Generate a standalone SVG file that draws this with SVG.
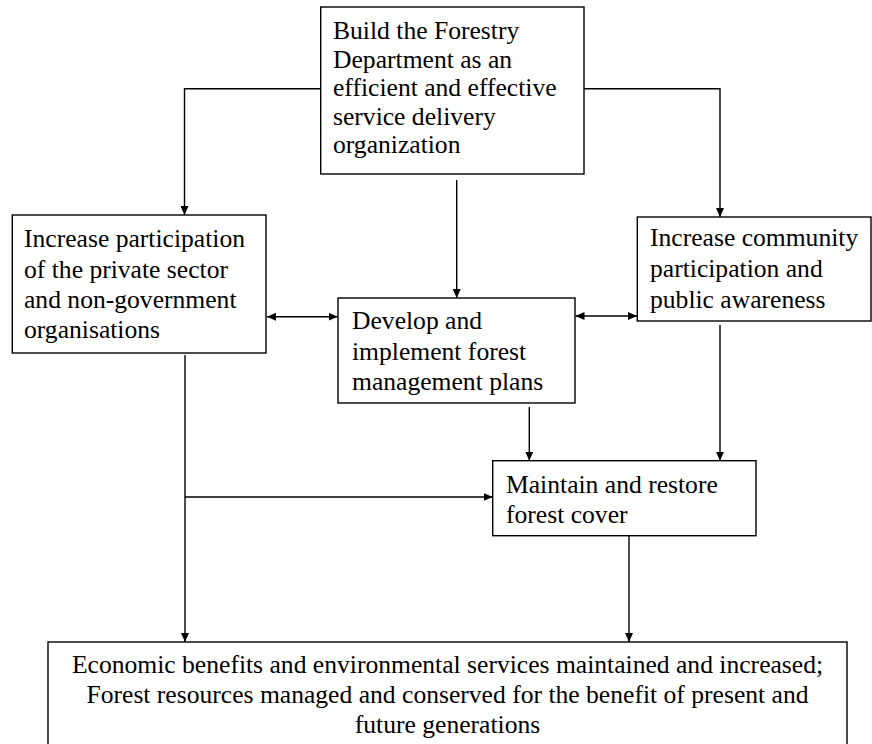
<svg xmlns="http://www.w3.org/2000/svg" width="872" height="744" viewBox="0 0 872 744">
<style>
.box{fill:#fff;stroke:#000;stroke-width:1.4}
.t{font-size:25.6px;fill:#000}
.c{text-anchor:middle}
.ln{fill:none;stroke:#000;stroke-width:1.4}
.a{marker-end:url(#ah)}
.d{marker-start:url(#ah);marker-end:url(#ah)}
</style>
<defs>
<marker id="ah" markerUnits="userSpaceOnUse" markerWidth="9" markerHeight="8" refX="9" refY="4" orient="auto-start-reverse" viewBox="0 0 9 8">
<path d="M0,0 L9,4 L0,8 z" fill="#000"/>
</marker>
</defs>
<rect width="872" height="744" fill="#fff"/>
<g id="connectors">
<path class="ln a" d="M320,88.7 H184.5 V215"/>
<path class="ln a" d="M584,88.7 H720 V217"/>
<path class="ln a" d="M456.7,180 V298"/>
<path class="ln d" d="M267,316.7 H337.5"/>
<path class="ln d" d="M575.5,316 H637"/>
<path class="ln a" d="M529.3,407 V460.7"/>
<path class="ln a" d="M720,325 V460.7"/>
<path class="ln a" d="M185,355 V642"/>
<path class="ln a" d="M185,497 H492.7"/>
<path class="ln a" d="M629,536 V642"/>
<path class="ln" d="M456.7,655 V697"/>
</g>
<g font-family="Liberation Serif, Times New Roman, Tinos, serif">
<g id="build">
<rect class="box" x="320.7" y="7" width="263.3" height="167"/>
<text class="t" x="333" y="39">Build the Forestry</text>
<text class="t" x="333" y="67.5">Department as an</text>
<text class="t" x="333" y="96">efficient and effective</text>
<text class="t" x="333" y="124.5">service delivery</text>
<text class="t" x="333" y="153">organization</text>
</g>
<g id="private">
<rect class="box" x="12.3" y="215" width="253.7" height="138"/>
<text class="t" x="24" y="247">Increase participation</text>
<text class="t" x="24" y="277.5">of the private sector</text>
<text class="t" x="24" y="308">and non-government</text>
<text class="t" x="24" y="338">organisations</text>
</g>
<g id="develop">
<rect class="box" x="338" y="298" width="237" height="105"/>
<text class="t" x="352" y="329">Develop and</text>
<text class="t" x="352" y="359.5">implement forest</text>
<text class="t" x="352" y="390">management plans</text>
</g>
<g id="community">
<rect class="box" x="637.3" y="217" width="233.7" height="104"/>
<text class="t" x="650" y="246">Increase community</text>
<text class="t" x="650" y="277">participation and</text>
<text class="t" x="650" y="307.5">public awareness</text>
</g>
<g id="maintain">
<rect class="box" x="492.7" y="460.7" width="263.3" height="75"/>
<text class="t" x="506" y="492.7">Maintain and restore</text>
<text class="t" x="506" y="522.7">forest cover</text>
</g>
<g id="outcome">
<rect class="box" x="48" y="642" width="799" height="110"/>
<text class="t c" x="447.5" y="673">Economic benefits and environmental services maintained and increased;</text>
<text class="t c" x="447.5" y="703">Forest resources managed and conserved for the benefit of present and</text>
<text class="t c" x="447.5" y="733">future generations</text>
</g>
</g>
</svg>
